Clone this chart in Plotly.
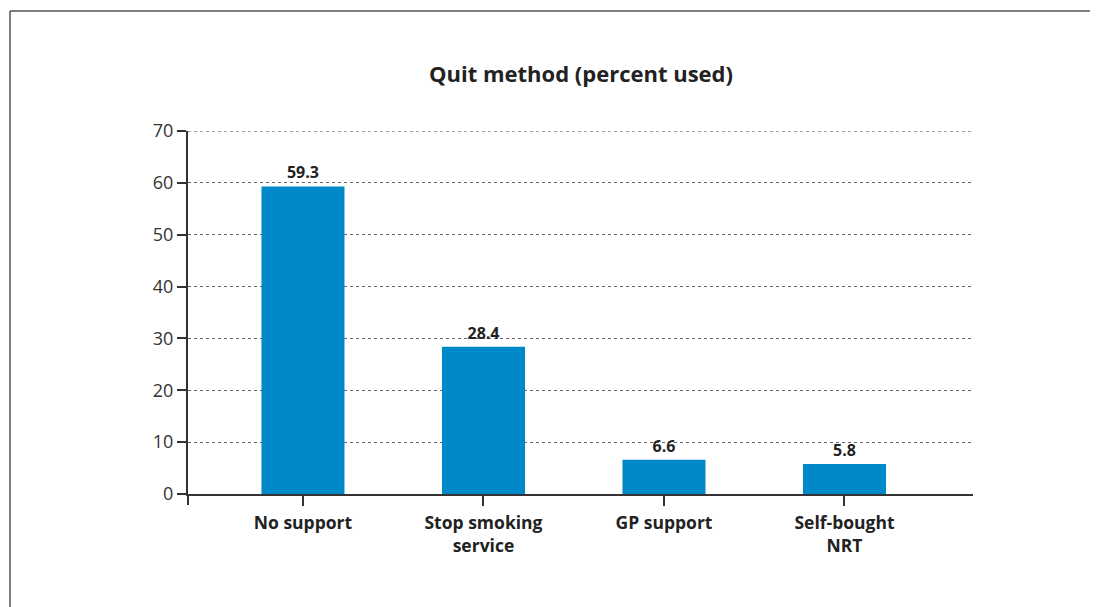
import plotly.graph_objects as go

categories = ["No support", "Stop smoking<br>service", "GP support", "Self-bought<br>NRT"]
values = [59.3, 28.4, 6.6, 5.8]
value_labels = ["59.3", "28.4", "6.6", "5.8"]
y_ticks = [0, 10, 20, 30, 40, 50, 60, 70]

# page body has an 8px margin, so figure coordinates are offset by 8px
OFF = 8
W, H = 1098 - OFF, 607 - OFF
ml, mr, mt, mb = 188 - OFF, 125, 131 - OFF, 113
pw, ph = W - ml - mr, H - mt - mb

def px_x(x):
    return (x - OFF - ml) / pw

def px_y(y):
    return (H - mb - (y - OFF)) / ph

fig = go.Figure()
fig.add_trace(go.Bar(
    x=categories, y=values,
    width=0.46,
    marker=dict(color="#0089c8", line=dict(width=0)),
    text=["<b>%s</b>" % t for t in value_labels],
    textposition="outside",
    textfont=dict(size=16, color="#222222", family="Open Sans"),
    cliponaxis=False,
))

fig.update_layout(
    width=W, height=H,
    margin=dict(l=ml, r=mr, t=mt, b=mb),
    paper_bgcolor="white", plot_bgcolor="white",
    font=dict(family="Open Sans", color="#333333"),
    showlegend=False,
    title=dict(text="<b>Quit method (percent used)</b>", x=px_x(581), xref="paper",
               xanchor="center", y=1 - (74 - OFF) / H, yanchor="middle",
               font=dict(size=22, color="#222222", family="Open Sans")),
    xaxis=dict(
        range=[-0.637, 3.712],
        showline=True, linecolor="#333333", linewidth=1.5,
        ticks="outside", ticklen=10, tickcolor="#333333", tickwidth=1.5,
        tickfont=dict(size=17.5, color="#222222", family="Open Sans"),
        tickprefix="<b>", ticksuffix="</b>",
        ticklabelstandoff=2,
        showgrid=False, zeroline=False,
    ),
    yaxis=dict(
        range=[0, 70], tickvals=y_ticks,
        showline=True, linecolor="#333333", linewidth=2,
        ticks="outside", ticklen=9, tickcolor="#333333", tickwidth=1.5,
        tickfont=dict(size=18, color="#333333", family="Open Sans"),
        showgrid=True, gridcolor="#666666", gridwidth=1, griddash="dot",
        zeroline=False,
    ),
    shapes=[
        # top gridline (at the edge of the range)
        dict(type="line", xref="paper", yref="y",
             x0=0, x1=1, y0=y_ticks[-1], y1=y_ticks[-1],
             line=dict(color="#444444", width=1, dash="dot"), layer="above"),
        # outer frame (left and top)
        dict(type="line", xref="paper", yref="paper",
             x0=px_x(10), x1=px_x(10), y0=px_y(11), y1=px_y(620),
             line=dict(color="#555555", width=1.5)),
        dict(type="line", xref="paper", yref="paper",
             x0=px_x(10), x1=px_x(1110), y0=px_y(11), y1=px_y(11),
             line=dict(color="#555555", width=1.5)),
        # y-axis extension below zero
        dict(type="line", xref="paper", yref="paper",
             x0=0, x1=0, y0=0, y1=px_y(505),
             line=dict(color="#333333", width=2)),
    ],
)

fig.write_html("out.html")
